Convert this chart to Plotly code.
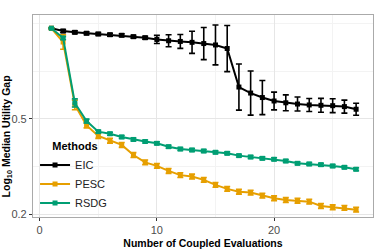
import plotly.graph_objects as go

evals = list(range(1, 28))

eic = [1.192, 1.161, 1.147, 1.137, 1.129, 1.121, 1.115, 1.100, 1.089, 1.071,
       1.058, 1.051, 1.042, 1.030, 1.016, 0.982, 0.679, 0.641, 0.614, 0.594,
       0.584, 0.577, 0.572, 0.570, 0.568, 0.563, 0.549]
eic_err = [0.002, 0.006, 0.006, 0.006, 0.006, 0.006, 0.006, 0.006, 0.006, 0.017,
           0.025, 0.029, 0.046, 0.067, 0.083, 0.096, 0.096, 0.092, 0.071, 0.037,
           0.033, 0.029, 0.027, 0.029, 0.029, 0.027, 0.025]

pesc = [1.192, 1.045, 0.572, 0.470, 0.425, 0.406, 0.390, 0.354, 0.330, 0.319,
        0.304, 0.292, 0.288, 0.279, 0.266, 0.256, 0.249, 0.247, 0.240, 0.234,
        0.230, 0.2286, 0.2265, 0.2174, 0.2147, 0.2133, 0.2098]
pesc_err = [0.002, 0.030, 0.020, 0.010, 0.010, 0.010, 0.010, 0.010, 0.010, 0.010,
            0.010, 0.010, 0.010, 0.010, 0.010, 0.010, 0.010, 0.010, 0.010, 0.010,
            0.010, 0.010, 0.010, 0.010, 0.010, 0.010, 0.010]

rsdg = [1.192, 1.086, 0.583, 0.490, 0.443, 0.434, 0.421, 0.411, 0.403, 0.396,
        0.3835, 0.375, 0.3715, 0.368, 0.3635, 0.360, 0.352, 0.3474, 0.343, 0.340,
        0.3344, 0.327, 0.325, 0.3228, 0.3188, 0.3148, 0.309]
rsdg_err = [0.002, 0.006, 0.017, 0.008, 0.006, 0.006, 0.006, 0.006, 0.006, 0.006,
            0.006, 0.006, 0.006, 0.006, 0.006, 0.006, 0.006, 0.006, 0.006, 0.006,
            0.006, 0.006, 0.006, 0.006, 0.006, 0.006, 0.006]

methods = ["EIC", "PESC", "RSDG"]
colors = ["#000000", "#E69F00", "#009E73"]
y_ticks = [0.2, 0.5]
x_ticks = [0, 10, 20]

fig = go.Figure()
for name, vals, errs, col in zip(methods, [eic, pesc, rsdg],
                                 [eic_err, pesc_err, rsdg_err], colors):
    up = [v * (10 ** e - 1) for v, e in zip(vals, errs)]
    lo = [v * (1 - 10 ** (-e)) for v, e in zip(vals, errs)]
    fig.add_trace(go.Scatter(
        x=evals, y=vals, name=name, mode="lines+markers",
        line=dict(color=col, width=2),
        marker=dict(symbol="square", size=5, color=col),
        error_y=dict(type="data", symmetric=False, array=up, arrayminus=lo,
                     color=col, thickness=1.6, width=3),
    ))

pad = "&nbsp;" * 5
fig.update_layout(
    width=374, height=252,
    margin=dict(l=33, r=1, t=15, b=35),
    plot_bgcolor="white", paper_bgcolor="white",
    font=dict(family="Liberation Sans, Arial, sans-serif", size=11, color="#4d4d4d"),
    legend=dict(
        title=dict(text=pad + "<b>Methods</b>", font=dict(size=11, color="black")),
        x=0.006, y=0.40, xanchor="left", yanchor="top",
        bgcolor="rgba(0,0,0,0)",
        font=dict(size=11, color="#222"),
        itemwidth=30, tracegroupgap=0,
    ),
    xaxis=dict(
        range=[-0.57, 28.44], tickvals=x_ticks, ticks="outside", ticklen=3,
        tickcolor="#333", showgrid=True, gridcolor="#e6e6e6", gridwidth=1.3,
        zeroline=False, showline=True, linecolor="#aaaaaa", linewidth=1.2, mirror=True,
        automargin=False,
        minor=dict(tickvals=[5, 15, 25], showgrid=True, gridcolor="#f3f3f3",
                   gridwidth=0.8, ticks=""),
        title=dict(text="<b>Number of Coupled Evaluations</b>",
                   font=dict(size=10.5, color="black"), standoff=4),
    ),
    yaxis=dict(
        type="log", range=[-0.7088, 0.1316], tickvals=y_ticks,
        ticktext=[str(v) for v in y_ticks], ticks="outside", ticklen=3,
        tickcolor="#333", showgrid=True, gridcolor="#e6e6e6", gridwidth=1.3,
        zeroline=False, showline=True, linecolor="#aaaaaa", linewidth=1.2, mirror=True,
        automargin=False,
        minor=dict(tickvals=[0.316, 0.79, 1.25], showgrid=True, gridcolor="#f3f3f3",
                   gridwidth=0.8, ticks=""),
        title=dict(text="<b>Log<sub>10</sub> Median Utility Gap</b>" + "&nbsp;" * 14,
                   font=dict(size=10.5, color="black"), standoff=2),
    ),
)

fig.write_html("out.html", post_script="document.body.style.margin='0';",
               config={"displayModeBar": False})
